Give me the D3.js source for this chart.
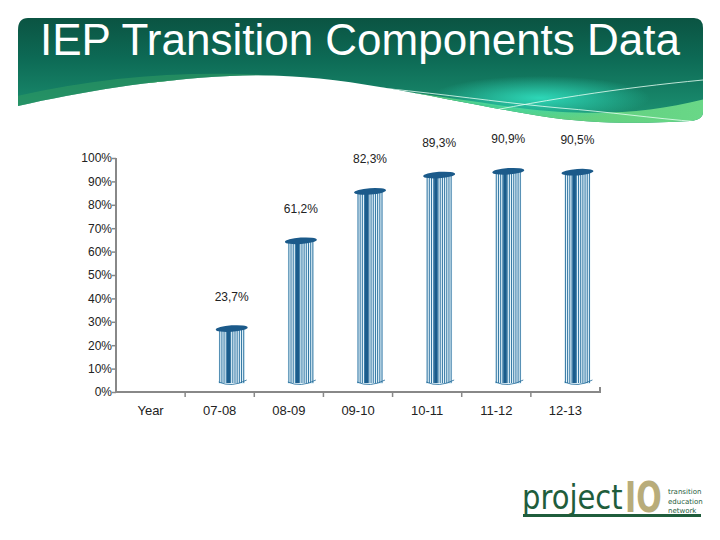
<!DOCTYPE html>
<html><head><meta charset="utf-8">
<script src="https://cdn.jsdelivr.net/npm/d3@7"></script>
<style>body{margin:0;background:#fff}svg{display:block}</style>
</head><body>
<svg id="c" width="720" height="540"></svg>
<script>
const categories = ["Year","07-08","08-09","09-10","10-11","11-12","12-13"];
const values = [null, 23.7, 61.2, 82.3, 89.3, 90.9, 90.5];
const valueLabels = ["", "23,7%", "61,2%", "82,3%", "89,3%", "90,9%", "90,5%"];
const yTicks = [0,10,20,30,40,50,60,70,80,90,100];
const title = "IEP Transition Components Data";

const svg = d3.select("#c");
const defs = svg.append("defs");

// ---- Banner ----
const g1 = defs.append("linearGradient").attr("id","bg").attr("x1","0").attr("y1","0").attr("x2","0").attr("y2","1");
g1.append("stop").attr("offset","0").attr("stop-color","#0a4a3a");
g1.append("stop").attr("offset","0.45").attr("stop-color","#0d6a55");
g1.append("stop").attr("offset","1").attr("stop-color","#1f9a78");
const g2 = defs.append("linearGradient").attr("id","sw").attr("x1","0").attr("y1","0").attr("x2","1").attr("y2","0");
g2.append("stop").attr("offset","0").attr("stop-color","#3aa862").attr("stop-opacity","0.9");
g2.append("stop").attr("offset","0.5").attr("stop-color","#5ac878");
g2.append("stop").attr("offset","1").attr("stop-color","#6ad888");
const g3 = defs.append("radialGradient").attr("id","glow").attr("cx","0.5").attr("cy","0.5").attr("r","0.5");
g3.append("stop").attr("offset","0").attr("stop-color","#30e0c0").attr("stop-opacity","0.9");
g3.append("stop").attr("offset","1").attr("stop-color","#30e0c0").attr("stop-opacity","0");
defs.append("clipPath").attr("id","bclip").append("path")
  .attr("d","M18,30 Q18,18 28,18 L694,18 Q703,18 703,28 L703,112 Q703,120 690,121 C640,124 590,124 540,116 C430,98 330,70 230,76 C150,80 80,92 18,106 Z");
const banner = svg.append("g").attr("clip-path","url(#bclip)");
banner.append("rect").attr("x",0).attr("y",0).attr("width",720).attr("height",130).attr("fill","url(#bg)");
banner.append("path").attr("d","M150,82 C300,70 420,95 520,108 C600,118 660,112 720,95 L720,130 L150,130 Z").attr("fill","url(#sw)");
banner.append("path").attr("d","M0,130 L0,100 C80,80 160,72 240,74 C360,78 430,100 520,110 C420,96 320,82 230,84 C140,88 60,105 0,130 Z").attr("fill","#2e9a62").attr("opacity",0.6);
banner.append("ellipse").attr("cx",540).attr("cy",98).attr("rx",110).attr("ry",22).attr("fill","url(#glow)");
banner.append("path").attr("d","M220,79 C360,80 470,100 560,108 C610,112 650,118 700,122").attr("fill","none").attr("stroke","#e8fff4").attr("stroke-width",0.8);
banner.append("path").attr("d","M445,120 C540,100 620,88 703,80").attr("fill","none").attr("stroke","#e8fff4").attr("stroke-width",0.8);
svg.append("text").attr("x",360).attr("y",55).attr("text-anchor","middle")
  .attr("font-family","Liberation Sans Narrow, Liberation Sans, Arial, sans-serif").attr("font-size",45)
  .attr("textLength",640).attr("lengthAdjust","spacingAndGlyphs")
  .attr("fill","#ffffff").text(title);

// ---- Chart ----
const x = d3.scaleBand().domain(categories).range([116,600]);
const y = d3.scaleLinear().domain([0,100]).range([392,158]);
const dx = 12, dy = -8, bw = 26;
const font = "Liberation Sans, Arial, sans-serif";

// y axis
const ya = svg.append("g").attr("transform","translate(116,0)")
  .call(d3.axisLeft(y).tickValues(yTicks).tickSize(4).tickFormat(d=>d+"%"));
ya.select(".domain").attr("stroke","#888").attr("stroke-width",2).attr("d","M0,158V392");
ya.selectAll(".tick line").attr("stroke","#888").attr("stroke-width",1.5);
ya.selectAll(".tick text").attr("font-family",font).attr("font-size",12).attr("fill","#222").attr("x",-4);

// x axis
const xa = svg.append("g").attr("transform","translate(0,392)")
  .call(d3.axisBottom(x).tickSize(0).tickPadding(14));
xa.select(".domain").attr("stroke","#888").attr("stroke-width",2).attr("d","M116,0H600V-5");
xa.selectAll(".tick text").attr("font-family",font).attr("font-size",13).attr("fill","#222");
xa.selectAll(".sep").data(categories.slice(1)).enter().append("line")
  .attr("x1",d=>x(d)).attr("x2",d=>x(d)).attr("y1",0).attr("y2",5)
  .attr("stroke","#888").attr("stroke-width",1.5);

// bars
const data = categories.map((c,i)=>({c, v:values[i], l:valueLabels[i]})).filter(d=>d.v!=null);
const bars = svg.append("g");
data.forEach(d=>{
  const cx = x(d.c) + x.bandwidth()/2 + dx;
  const x0 = cx - bw/2;
  const top = y(d.v) + dy;
  const bot = y(0) + dy;
  const g = bars.append("g");
  g.append("rect").attr("x",x0).attr("y",top).attr("width",bw).attr("height",bot-top).attr("fill","#e4f3fa");
  const n = 12;
  for(let k=0;k<n;k++){
    const lx = x0 + 1 + k*(bw-2)/(n-1);
    g.append("line").attr("x1",lx).attr("x2",lx).attr("y1",top).attr("y2",bot-1)
      .attr("stroke","#1e6898").attr("stroke-width",0.9);
  }
  g.append("rect").attr("x",x0+8).attr("y",top).attr("width",3.5).attr("height",bot-top-1).attr("fill","#1a5c8c");
  g.append("path").attr("d",`M${x0},${bot-2} Q${cx},${bot+4} ${x0+bw+2},${bot-4}`)
    .attr("fill","none").attr("stroke","#1e6898").attr("stroke-width",0.8);
  g.append("ellipse").attr("cx",cx).attr("cy",top).attr("rx",bw/2+3).attr("ry",3.2)
    .attr("transform",`rotate(-4 ${cx} ${top})`).attr("fill","#1b5a8a");
  svg.append("text").attr("x",cx).attr("y",top-28).attr("text-anchor","middle")
    .attr("font-family",font).attr("font-size",12).attr("fill","#222").text(d.l);
});

// ---- Logo ----
const logo = svg.append("g");
logo.append("text").attr("transform","translate(522,509) scale(1,1.17)").attr("font-family","DejaVu Sans, sans-serif")
  .attr("font-size",29).attr("fill","#1f5d3c").text("project");
logo.append("text").attr("transform","translate(625,512) scale(1,1.45)").attr("font-family","DejaVu Sans, sans-serif").attr("font-weight","bold")
  .attr("font-size",30).attr("fill","#b8ac7a").text("IO");
["transition","education","network"].forEach((t,i)=>{
  logo.append("text").attr("x",668).attr("y",494+i*9.5).attr("font-family","DejaVu Sans, sans-serif")
    .attr("font-size",7).attr("fill","#1f5d3c").text(t);
});
logo.append("rect").attr("x",523).attr("y",514).attr("width",178).attr("height",3).attr("fill","#1f5d3c");
</script>
</body></html>
